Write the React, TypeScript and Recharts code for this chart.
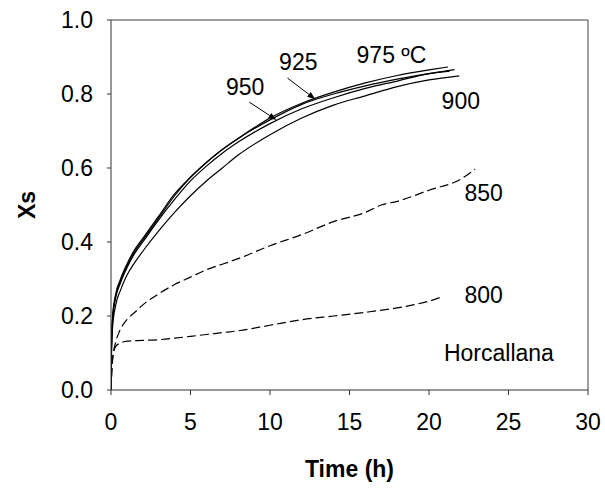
import {
    LineChart,
    Line,
    XAxis,
    YAxis,
    ReferenceLine,
    ReferenceDot,
    Label
} from 'recharts';

// common time grid (h) for the four upper runs
const hoursHigh = [0, 0.03, 0.1, 0.3, 0.6, 1, 1.5, 2, 3, 4, 5, 6, 7, 8, 10, 12, 14, 16, 18, 20];

const xs975 = [0, 0.12, 0.2, 0.26, 0.3, 0.34, 0.38, 0.41, 0.47, 0.53, 0.575, 0.615, 0.65, 0.68, 0.735, 0.775, 0.805, 0.83, 0.85, 0.865];
const xs950 = [0, 0.11, 0.19, 0.25, 0.29, 0.33, 0.37, 0.4, 0.46, 0.515, 0.565, 0.605, 0.64, 0.67, 0.72, 0.76, 0.79, 0.815, 0.835, 0.855];
const xs925 = [0, 0.11, 0.19, 0.255, 0.295, 0.335, 0.375, 0.405, 0.465, 0.525, 0.575, 0.615, 0.65, 0.68, 0.73, 0.772, 0.8, 0.822, 0.84, 0.855];
const xs900 = [0, 0.1, 0.17, 0.23, 0.27, 0.31, 0.345, 0.375, 0.43, 0.48, 0.525, 0.565, 0.6, 0.635, 0.69, 0.735, 0.77, 0.795, 0.82, 0.838];

// last point of each run
const end975 = [21.2, 0.873];
const end950 = [21.3, 0.862];
const end925 = [21.6, 0.866];
const end900 = [21.9, 0.849];

const hours850 = [0, 0.1, 0.3, 0.5, 1, 1.5, 2, 3, 4, 5, 6, 7, 8, 10, 12, 14, 16, 17, 18, 20, 22, 22.9];
const xs850 = [0, 0.08, 0.13, 0.155, 0.19, 0.21, 0.23, 0.26, 0.285, 0.305, 0.325, 0.34, 0.355, 0.39, 0.42, 0.455, 0.48, 0.5, 0.51, 0.54, 0.57, 0.597];

const hours800 = [0, 0.05, 0.15, 0.3, 0.6, 1, 2, 3, 4, 5, 6, 7, 8, 10, 12, 14, 16, 18, 19, 20, 20.7];
const xs800 = [0, 0.06, 0.1, 0.118, 0.127, 0.132, 0.134, 0.136, 0.14, 0.145, 0.15, 0.155, 0.16, 0.175, 0.19, 0.2, 0.21, 0.222, 0.23, 0.24, 0.25];

const xTicks = [0, 5, 10, 15, 20, 25, 30];
const yTicks = [0, 0.2, 0.4, 0.6, 0.8, 1.0];

const FONT = '"Liberation Sans", Arial, sans-serif';

const toPoints = (hours: number[], xs: number[], end?: number[]) => {
    const pts = hours.map((t, i) => ({ t, xs: xs[i] }));
    if (end) pts.push({ t: end[0], xs: end[1] });
    return pts;
};

const series = [
    { name: '975', data: toPoints(hoursHigh, xs975, end975), dash: undefined },
    { name: '950', data: toPoints(hoursHigh, xs950, end950), dash: undefined },
    { name: '925', data: toPoints(hoursHigh, xs925, end925), dash: undefined },
    { name: '900', data: toPoints(hoursHigh, xs900, end900), dash: undefined },
    { name: '850', data: toPoints(hours850, xs850), dash: '9 4' },
    { name: '800', data: toPoints(hours800, xs800), dash: '9 4' },
];

// curve labels, in data coordinates
const notes = [
    { text: '950', t: 8.44, y: 0.819 },
    { text: '925', t: 11.78, y: 0.886 },
    { text: '975 ºC', t: 17.64, y: 0.905 },
    { text: '900', t: 22.0, y: 0.781 },
    { text: '850', t: 23.44, y: 0.532 },
    { text: '800', t: 23.44, y: 0.257 },
    { text: 'Horcallana', t: 24.4, y: 0.1 },
];

const arrows = [
    { from: [8.7, 0.778], to: [10.4, 0.73] },
    { from: [11.1, 0.843], to: [12.85, 0.786] },
];

const Arrow = (props: any) => {
    const { x1, y1, x2, y2 } = props;
    const a = Math.atan2(y2 - y1, x2 - x1);
    const len = 8;
    const w = 3;
    const bx = x2 - len * Math.cos(a);
    const by = y2 - len * Math.sin(a);
    const p1 = `${bx - w * Math.sin(a)},${by + w * Math.cos(a)}`;
    const p2 = `${bx + w * Math.sin(a)},${by - w * Math.cos(a)}`;
    return (
        <g>
            <line x1={x1} y1={y1} x2={bx} y2={by} stroke="#000" strokeWidth={1} />
            <polygon points={`${x2},${y2} ${p1} ${p2}`} fill="#000" />
        </g>
    );
};

const App = () => {
    return (
        <div style={{ position: 'absolute', left: 0, top: 0, background: '#fff' }}>
            <LineChart
                width={605}
                height={489}
                margin={{ top: 20, right: 17, bottom: 39, left: 0 }}
            >
                <XAxis
                    type="number"
                    dataKey="t"
                    domain={[0, 30]}
                    ticks={xTicks}
                    height={60}
                    tickSize={5}
                    tickMargin={19}
                    allowDataOverflow
                    stroke="#333"
                    tick={{ fill: '#000', fontSize: 23, fontFamily: FONT }}
                >
                    <Label
                        content={({ viewBox }: any) => (
                            <text
                                x={viewBox.x + viewBox.width / 2}
                                y={viewBox.y + 79}
                                textAnchor="middle"
                                dominantBaseline="central"
                                fontSize={23}
                                fontWeight="bold"
                                fontFamily={FONT}
                                fill="#000"
                            >
                                Time (h)
                            </text>
                        )}
                    />
                </XAxis>
                <YAxis
                    type="number"
                    domain={[0, 1]}
                    ticks={yTicks}
                    width={111}
                    tickSize={4}
                    tickMargin={14}
                    stroke="#333"
                    tickFormatter={(v: number) => v.toFixed(1)}
                    tick={{ fill: '#000', fontSize: 23, fontFamily: FONT }}
                >
                    <Label
                        content={({ viewBox }: any) => {
                            const cx = viewBox.x + 27;
                            const cy = viewBox.y + viewBox.height / 2;
                            return (
                                <text
                                    x={cx}
                                    y={cy}
                                    textAnchor="middle"
                                    dominantBaseline="central"
                                    transform={`rotate(-90 ${cx} ${cy})`}
                                    fontSize={23}
                                    fontWeight="bold"
                                    fontFamily={FONT}
                                    fill="#000"
                                >
                                    Xs
                                </text>
                            );
                        }}
                    />
                </YAxis>
                <ReferenceLine y={1} stroke="#808080" strokeWidth={1.5} />
                <ReferenceLine x={30} stroke="#808080" strokeWidth={1.5} />
                {series.map(s => (
                    <Line
                        key={s.name}
                        data={s.data}
                        dataKey="xs"
                        type="monotone"
                        stroke="#000"
                        strokeWidth={1.2}
                        strokeDasharray={s.dash}
                        dot={false}
                        activeDot={false}
                        isAnimationActive={false}
                    />
                ))}
                {arrows.map((a, i) => (
                    <ReferenceLine
                        key={`arrow-${i}`}
                        segment={[
                            { x: a.from[0], y: a.from[1] },
                            { x: a.to[0], y: a.to[1] },
                        ]}
                        shape={Arrow}
                    />
                ))}
                {notes.map(n => (
                    <ReferenceDot
                        key={n.text}
                        x={n.t}
                        y={n.y}
                        r={0}
                        fill="none"
                        stroke="none"
                        label={{
                            value: n.text,
                            position: 'center',
                            fill: '#000',
                            fontSize: 23,
                            fontFamily: FONT,
                        }}
                    />
                ))}
            </LineChart>
        </div>
    );
};

export default App;
